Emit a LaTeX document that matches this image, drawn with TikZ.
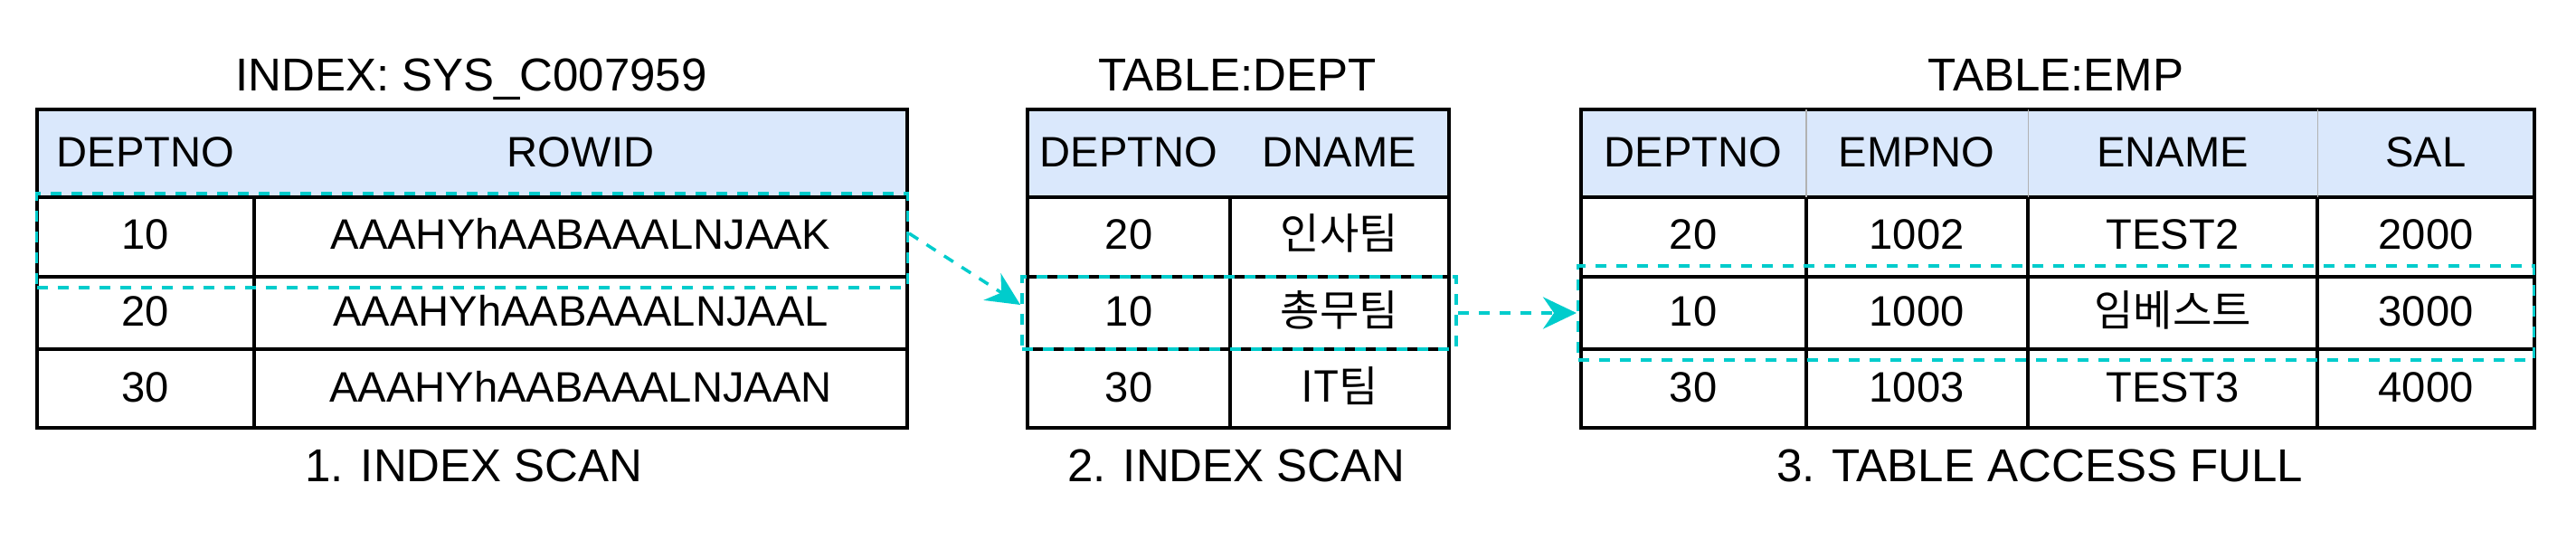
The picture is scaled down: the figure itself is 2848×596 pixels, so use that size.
\documentclass[tikz,border=0pt]{standalone}
\usepackage{fontspec}
\setmainfont{Liberation Sans}
\newfontfamily\kofont{Noto Sans CJK KR}
\usepackage{xcolor}
\usetikzlibrary{arrows.meta,positioning}

\definecolor{headblue}{HTML}{DAE8FC}
\definecolor{scancyan}{HTML}{00CCCC}

\tikzset{
  cell/.style={font=\fontsize{13.4pt}{16pt}\selectfont, inner sep=0pt, text height=0.34cm, text depth=0pt},
  tabtitle/.style={font=\fontsize{14.5pt}{17pt}\selectfont, anchor=base, inner sep=0pt},
  tabline/.style={line width=1pt},
  hilite/.style={draw=scancyan, line width=1pt, dash pattern=on 0.12cm off 0.11cm, inner sep=0pt},
  scanarrow/.style={draw=scancyan, line width=1pt, dash pattern=on 0.12cm off 0.11cm, -{Stealth[length=10.5pt, width=10pt]}}
}

\begin{document}
\begin{tikzpicture}[x=0.01cm, y=-0.01cm]
    \useasboundingbox (0,0) rectangle (2848,596);

    % Index SYS_C007959
    \fill[headblue] (41,121) rectangle (1003,218);
    \draw[tabline] (41,121) rectangle (1003,473);
    \foreach \y in {218,306,386} {
        \draw[tabline] (41,\y) -- (1003,\y);
    }
    \draw[tabline] (281,218) -- (281,473);
    \node[tabtitle] (idx-title) at (521,100) {INDEX: SYS\_C007959};
    \node[cell] (idx-h1) at (161,167) {DEPTNO};
    \node[cell] (idx-h2) at (642,167) {ROWID};
    \foreach \y/\d/\r [count=\i] in {258/10/AAAHYhAABAAALNJAAK, 343/20/AAAHYhAABAAALNJAAL, 427/30/AAAHYhAABAAALNJAAN} {
        \node[cell] (idx-\i-1) at (161,\y) {\d};
        \node[cell] (idx-\i-2) at (642,\y) {\r};
    }
    \node[tabtitle] (idx-step) at (524,532) {1. INDEX SCAN};

    % Table DEPT
    \fill[headblue] (1136,121) rectangle (1602,218);
    \draw[tabline] (1136,121) rectangle (1602,473);
    \foreach \y in {218,306,386} {
        \draw[tabline] (1136,\y) -- (1602,\y);
    }
    \draw[tabline] (1360,218) -- (1360,473);
    \node[tabtitle] (dept-title) at (1368,100) {TABLE:DEPT};
    \node[cell] (dept-h1) at (1248,167) {DEPTNO};
    \node[cell] (dept-h2) at (1481,167) {DNAME};
    \foreach \y/\d/\n [count=\i] in {258/20/인사팀, 343/10/총무팀, 427/30/IT팀} {
        \node[cell] (dept-\i-1) at (1248,\y) {\d};
        \node[cell] (dept-\i-2) at (1481,\y) {\kofont\n};
    }
    \node[tabtitle] (dept-step) at (1367,532) {2. INDEX SCAN};

    % Table EMP
    \fill[headblue] (1748,121) rectangle (2802,218);
    \draw[tabline] (1748,121) rectangle (2802,473);
    \foreach \y in {218,306,386} {
        \draw[tabline] (1748,\y) -- (2802,\y);
    }
    \foreach \x in {1997,2242,2562} {
        \draw[gray!60, line width=0.3pt] (\x,121) -- (\x,218);
        \draw[tabline] (\x,218) -- (\x,473);
    }
    \node[tabtitle] (emp-title) at (2273,100) {TABLE:EMP};
    \node[cell] (emp-h1) at (1872,167) {DEPTNO};
    \node[cell] (emp-h2) at (2119,167) {EMPNO};
    \node[cell] (emp-h3) at (2402,167) {ENAME};
    \node[cell] (emp-h4) at (2682,167) {SAL};
    \foreach \y/\d/\e/\n/\s [count=\i] in {258/20/1002/TEST2/2000, 343/10/1000/{\kofont 임베스트}/3000, 427/30/1003/TEST3/4000} {
        \node[cell] (emp-\i-1) at (1872,\y) {\d};
        \node[cell] (emp-\i-2) at (2119,\y) {\e};
        \node[cell] (emp-\i-3) at (2402,\y) {\n};
        \node[cell] (emp-\i-4) at (2682,\y) {\s};
    }
    \node[tabtitle] (emp-step) at (2255,532) {3. TABLE ACCESS FULL};

    % Scanned rows
    \node[hilite, minimum width=9.62cm, minimum height=1.04cm] (scan1) at (522,266) {};
    \node[hilite, minimum width=4.80cm, minimum height=0.80cm] (scan2) at (1370,346) {};
    \node[hilite, minimum width=10.56cm, minimum height=1.04cm] (scan3) at (2273,346) {};

    % Access path
    \draw[scanarrow] ([yshift=0.08cm]scan1.east) -- ([yshift=0.09cm]scan2.west);
    \draw[scanarrow] (scan2.east) -- (scan3.west);

\end{tikzpicture}
\end{document}
